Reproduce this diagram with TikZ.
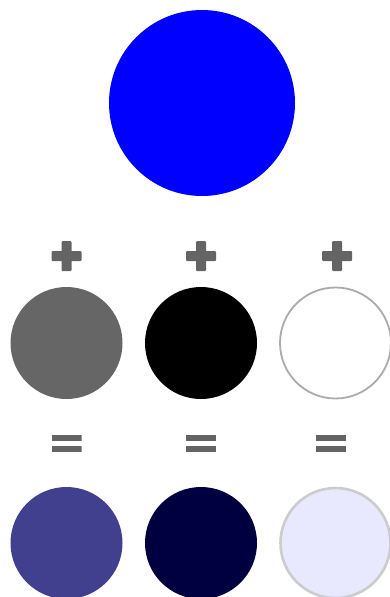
\documentclass[tikz,border=0pt]{standalone}
\definecolor{puremix}{HTML}{0000FF}
\definecolor{greymix}{HTML}{666666}
\definecolor{signgrey}{HTML}{646464}
\definecolor{tonemix}{HTML}{40408F}
\definecolor{shademix}{HTML}{000040}
\definecolor{tintmix}{HTML}{E8E8FF}
\begin{document}
\begin{tikzpicture}[x=1pt,y=-1pt]
	\useasboundingbox (0,0) rectangle (389,597);
	\tikzstyle{dot} =[circle, inner sep=0pt, minimum size=112pt];
	\tikzstyle{plussign} =[inner sep=0pt, minimum size=30pt, path picture={
		\fill[signgrey, rounded corners=1pt] ([xshift=-5pt]path picture bounding box.north) rectangle ([xshift=5pt]path picture bounding box.south);
		\fill[signgrey, rounded corners=1pt] ([yshift=5pt]path picture bounding box.west) rectangle ([yshift=-5pt]path picture bounding box.east);}];
	\tikzstyle{equalsign} =[inner sep=0pt, minimum width=30pt, minimum height=17pt, path picture={
		\fill[signgrey] (path picture bounding box.north west) rectangle ([yshift=-6pt]path picture bounding box.north east);
		\fill[signgrey] (path picture bounding box.south west) rectangle ([yshift=6pt]path picture bounding box.south east);}];
	
	\node[dot, fill=puremix, minimum size=186pt] (pure) at (202,103) {};
	
	\node[dot, fill=greymix] (grey) at (66.5,343) {};
	\node[dot, fill=black, right of = grey, node distance=134.5pt] (black) {};
	\node[dot, fill=white, draw=black!33, line width=1.8pt, minimum size=111pt, right of = black, node distance=134.5pt] (white) {};
	
	\node[plussign, above of = grey, node distance=87pt] (plusgrey) {};
	\node[plussign, above of = black, node distance=87pt] (plusblack) {};
	\node[plussign, above of = white, node distance=87pt, xshift=1.5pt] (pluswhite) {};
	
	\node[equalsign, below of = grey, node distance=100pt] (eqtone) {};
	\node[equalsign, below of = black, node distance=100pt] (eqshade) {};
	\node[equalsign, below of = white, node distance=100pt, xshift=-4.5pt] (eqtint) {};
	
	\node[dot, fill=tonemix, below of = eqtone, node distance=100pt] (tone) {};
	\node[dot, fill=shademix, below of = eqshade, node distance=100pt] (shade) {};
	\node[dot, fill=tintmix, draw=black!20, line width=2.6pt, minimum size=110pt, below of = white, node distance=200pt] (tint) {};
\end{tikzpicture}
\end{document}
